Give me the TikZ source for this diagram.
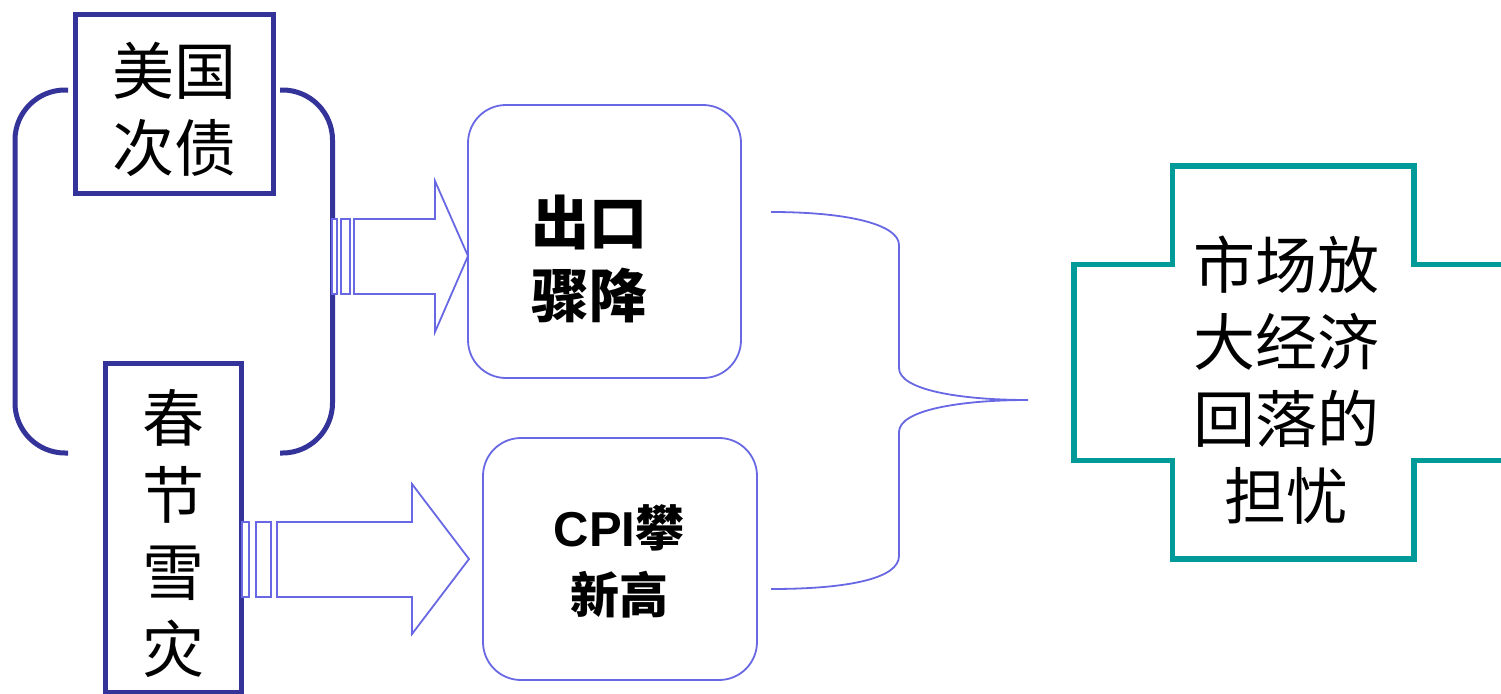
\documentclass[tikz,border=0pt]{standalone}
\usepackage{fontspec}
\setmainfont{Noto Sans CJK SC}
\newfontfamily\cjk{Noto Sans CJK SC}
\newfontfamily\lat{Liberation Sans}
\definecolor{dkblue}{HTML}{333399}
\definecolor{ltblue}{HTML}{6868E4}
\definecolor{tealc}{HTML}{009B99}
\begin{document}
\begin{tikzpicture}[x=1pt,y=-1pt,
  darkbox/.style={draw=dkblue, line width=5pt, fill=white, inner sep=0pt},
  bracketline/.style={draw=dkblue, line width=5pt, rounded corners=50pt},
  blockarrow/.style={draw=ltblue, line width=1.8pt, fill=white, line join=miter},
  roundbox/.style={draw=ltblue, line width=1.8pt, rounded corners=38pt, fill=white, inner sep=0pt},
  bracestyle/.style={draw=ltblue, line width=1.8pt},
  crossline/.style={draw=tealc, line width=5.5pt, line join=miter},
  bigtext/.style={align=center, inner sep=0pt, font=\cjk\fontsize{62}{77}\selectfont},
  boldtext/.style={align=center, inner sep=0pt, font=\cjk\bfseries\fontsize{58}{73}\selectfont},
  cpitext/.style={align=center, inner sep=0pt, font=\cjk\bfseries\fontsize{49}{67}\selectfont},
  crosstext/.style={align=center, inner sep=0pt, font=\cjk\fontsize{62}{77}\selectfont}]
\useasboundingbox (0,0) rectangle (1501,693);
\fill[white] (0,0) rectangle (1501,693);

% left bracket
\draw[bracketline] (68,90) -- (15,90) -- (15,453) -- (68,453);
\draw[bracketline] (280,90) -- (332.5,90) -- (332.5,453) -- (280,453);

% dark boxes
\node[darkbox, minimum width=198pt, minimum height=179pt] (usa) at (174.5,104) {};
\node[bigtext] (usatext) at (174,109.5) {美国\\次债};
\node[darkbox, minimum width=136pt, minimum height=329pt] (snow) at (173.5,527.5) {};
\node[bigtext] (snowtext) at (173.5,533.5) {春\\节\\雪\\灾};

% block arrows
\draw[blockarrow] (332,219) rectangle (337,294);
\draw[blockarrow] (341,219) rectangle (350,294);
\draw[blockarrow] (354,219) -- (435,219) -- (435,181) -- (468,256) -- (435,332) -- (435,294) -- (354,294) -- cycle;

\draw[blockarrow] (242,522) rectangle (249,597);
\draw[blockarrow] (256,522) rectangle (271,597);
\draw[blockarrow] (277,522) -- (412,522) -- (412,484) -- (469,559) -- (412,634) -- (412,597) -- (277,597) -- cycle;

% rounded boxes
\node[roundbox, minimum width=273pt, minimum height=273pt] (export) at (604.5,241.5) {};
\node[boldtext] (exporttext) at (589,259) {出口\\骤降};
\node[roundbox, minimum width=274pt, minimum height=242pt] (cpi) at (620,559) {};
\node[cpitext] (cpitxt) at (619,561.5) {{\lat\bfseries CPI}攀\\新高};

% brace
\coordinate (bt) at (771,212);
\coordinate (bb) at (771,589);
\coordinate (tip) at (1028,400);
\draw[bracestyle] (bt) .. controls (850,212) and (899,225) .. (899,245)
  -- (899,368) .. controls (899,390) and (960,400) .. (tip)
  .. controls (960,400) and (899,410) .. (899,432)
  -- (899,556) .. controls (899,578) and (850,589) .. (bb);

% cross
\draw[crossline] (1505,264.5) -- (1414,264.5) -- (1414,166) -- (1172.5,166) -- (1172.5,264.5)
  -- (1074,264.5) -- (1074,460.5) -- (1172.5,460.5) -- (1172.5,559) -- (1414,559)
  -- (1414,460.5) -- (1505,460.5);
\node[crosstext] (worry) at (1286,380) {市场放\\大经济\\回落的\\担忧};
\end{tikzpicture}
\end{document}
